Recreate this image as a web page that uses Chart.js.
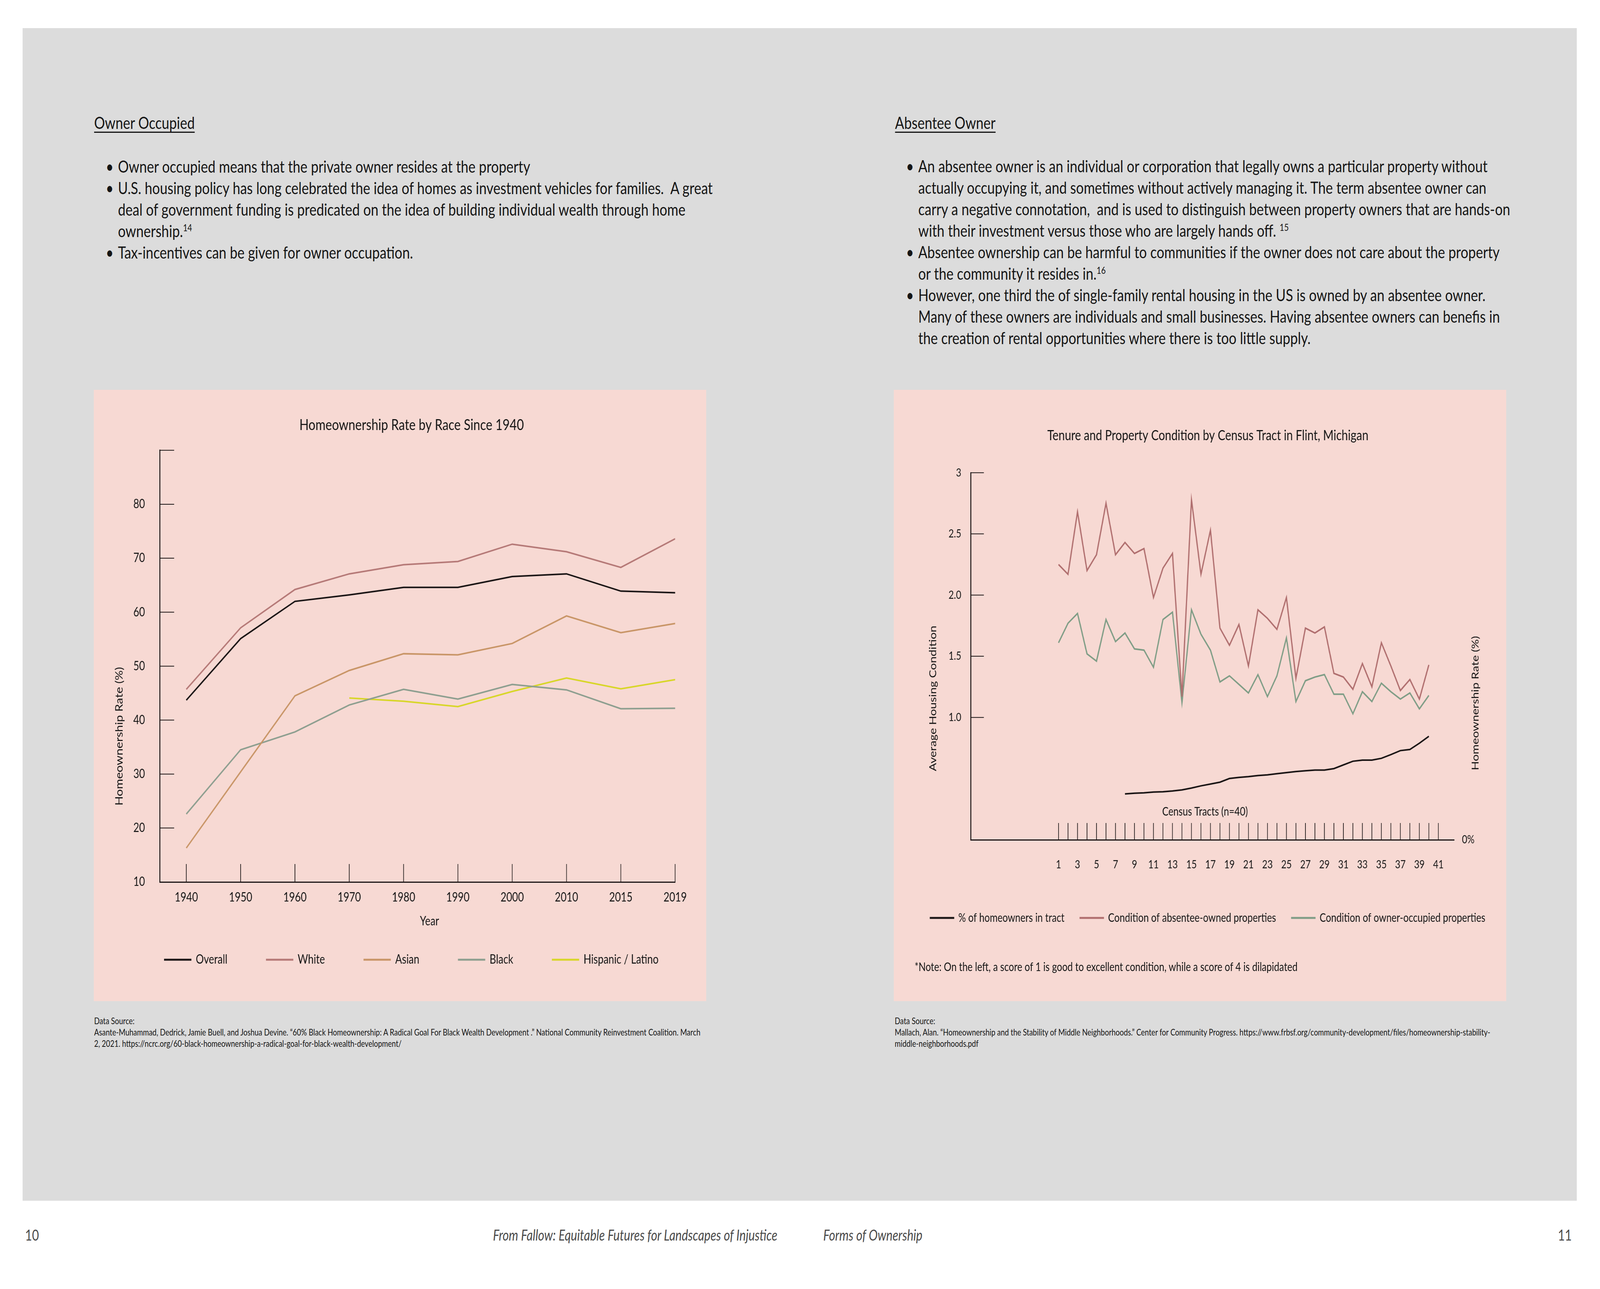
<!DOCTYPE html>
<html>
<head>
<meta charset="utf-8">
<script src="https://cdn.jsdelivr.net/npm/chart.js@4.4.1/dist/chart.umd.min.js"></script>
<style>
  html, body { margin: 0; padding: 0; overflow: hidden; background: #fff; }
  #frame { position: relative; overflow: hidden; background: #fff; }
  #stage { position: absolute; left: 0; top: 0; width: 5100px; height: 3300px; transform-origin: 0 0;
           font-family: Lato, sans-serif; color: #151515; background: #fff; }
  .abs { position: absolute; }
  .sheet { left: 72px; top: 72px; width: 4954px; height: 3002px; background: #dcdcdc; }
  .head { font-size: 43px; line-height: 55px; text-decoration: underline;
          text-underline-offset: 7px; text-decoration-thickness: 3px; }
  ul.pts { margin: 0; padding: 0; list-style: none; font-size: 43px; line-height: 55px; white-space: nowrap; }
  ul.pts li { position: relative; padding-left: 35px; }
  ul.pts li::before { content: '•'; position: absolute; left: -4px; }
  sup { font-size: 25px; line-height: 0; vertical-align: 15px; }
  .panel { background: #f7d9d3; width: 1952px; height: 1565px; top: 998px; }
  .src { font-size: 23px; line-height: 29px; white-space: nowrap; top: 2599px; }
  .foot { font-size: 38px; line-height: 1.2; top: 3139px; color: #4a4a4a; white-space: nowrap; }
  .note { font-size: 30px; line-height: 1.2; white-space: nowrap; }
</style>
</head>
<body>
<div id="frame">
<div id="stage">
<div class="abs sheet"></div>

<div class="abs head" style="left:300px; top:286px;">Owner Occupied</div>
<ul class="abs pts" style="left:341px; top:398px;">
  <li>Owner occupied means that the private owner resides at the property</li>
  <li>U.S. housing policy has long celebrated the idea of homes as investment vehicles for families.&nbsp; A great<br>deal of government funding is predicated on the idea of building individual wealth through home<br>ownership.<sup>14</sup></li>
  <li>Tax-incentives can be given for owner occupation.</li>
</ul>

<div class="abs head" style="left:2853px; top:286px;">Absentee Owner</div>
<ul class="abs pts" style="left:2892px; top:397px;">
  <li>An absentee owner is an individual or corporation that legally owns a particular property without<br>actually occupying it, and sometimes without actively managing it. The term absentee owner can<br>carry a negative connotation,&nbsp; and is used to distinguish between property owners that are hands-on<br>with their investment versus those who are largely hands off. <sup>15</sup></li>
  <li>Absentee ownership can be harmful to communities if the owner does not care about the property<br>or the community it resides in.<sup>16</sup></li>
  <li>However, one third the of single-family rental housing in the US is owned by an absentee owner.<br>Many of these owners are individuals and small businesses. Having absentee owners can benefis in<br>the creation of rental opportunities where there is too little supply.</li>
</ul>

<div class="abs panel" style="left:299px;"><canvas id="raceChart" width="1952" height="1565"></canvas></div>
<div class="abs panel" style="left:2849px;"><canvas id="flintChart" width="1952" height="1565"></canvas></div>
<div class="abs note" style="left:2915px; top:2456px;">*Note: On the left, a score of 1 is good to excellent condition, while a score of 4 is dilapidated</div>

<div class="abs src" style="left:300px;">Data Source:<br>Asante-Muhammad, Dedrick, Jamie Buell, and Joshua Devine. “60% Black Homeownership: A Radical Goal For Black Wealth Development .” National Community Reinvestment Coalition. March<br>2, 2021. https://ncrc.org/60-black-homeownership-a-radical-goal-for-black-wealth-development/</div>
<div class="abs src" style="left:2852px;">Data Source:<br>Mallach, Alan. “Homeownership and the Stability of Middle Neighborhoods.” Center for Community Progress. https://www.frbsf.org/community-development/files/homeownership-stability-<br>middle-neighborhoods.pdf</div>

<div class="abs foot" style="left:80px;">10</div>
<div class="abs foot" style="right:2622px; font-style:italic;">From Fallow: Equitable Futures for Landscapes of Injustice</div>
<div class="abs foot" style="left:2624px; font-style:italic;">Forms of Ownership</div>
<div class="abs foot" style="right:90px;">11</div>
</div>
</div>

<script>
// homeownership rate by race (%)
const years = ['1940', '1950', '1960', '1970', '1980', '1990', '2000', '2010', '2015', '2019'];
const overall = [43.7, 55.1, 62.0, 63.2, 64.6, 64.6, 66.6, 67.1, 63.9, 63.6];
const white = [45.7, 57.1, 64.2, 67.1, 68.8, 69.4, 72.6, 71.2, 68.3, 73.6];
const asian = [16.3, 30.4, 44.5, 49.2, 52.3, 52.1, 54.2, 59.3, 56.2, 57.9];
const black = [22.6, 34.5, 37.8, 42.8, 45.7, 43.9, 46.6, 45.6, 42.1, 42.2];
const hispanic = [null, null, null, 44.1, 43.5, 42.5, 45.3, 47.8, 45.8, 47.5];
const rateTicks = [10, 20, 30, 40, 50, 60, 70, 80, 90];

// Flint census tracts
const tracts = [1, 2, 3, 4, 5, 6, 7, 8, 9, 10, 11, 12, 13, 14, 15, 16, 17, 18, 19, 20,
  21, 22, 23, 24, 25, 26, 27, 28, 29, 30, 31, 32, 33, 34, 35, 36, 37, 38, 39, 40];
const tractTicks = [1, 2, 3, 4, 5, 6, 7, 8, 9, 10, 11, 12, 13, 14, 15, 16, 17, 18, 19, 20,
  21, 22, 23, 24, 25, 26, 27, 28, 29, 30, 31, 32, 33, 34, 35, 36, 37, 38, 39, 40, 41];
const absenteeCondition = [2.25, 2.17, 2.68, 2.20, 2.33, 2.75, 2.33, 2.43, 2.34, 2.38,
  1.98, 2.22, 2.34, 1.17, 2.78, 2.17, 2.53, 1.73, 1.59, 1.76,
  1.42, 1.88, 1.81, 1.72, 1.98, 1.32, 1.73, 1.69, 1.74, 1.36,
  1.33, 1.23, 1.44, 1.25, 1.61, 1.42, 1.22, 1.31, 1.15, 1.43];
const ownerCondition = [1.61, 1.77, 1.85, 1.52, 1.46, 1.80, 1.62, 1.69, 1.56, 1.55,
  1.41, 1.80, 1.86, 1.12, 1.88, 1.68, 1.55, 1.29, 1.34, 1.27,
  1.20, 1.35, 1.17, 1.34, 1.65, 1.13, 1.30, 1.33, 1.35, 1.19,
  1.19, 1.03, 1.21, 1.13, 1.28, 1.21, 1.15, 1.20, 1.07, 1.18];
const homeownerShare = [null, null, null, null, null, null, null, 12.5, 12.7, 12.8,
  13.0, 13.1, 13.3, 13.6, 14.1, 14.7, 15.2, 15.7, 16.7, 17.0,
  17.2, 17.5, 17.7, 18.0, 18.3, 18.6, 18.8, 19.0, 19.0, 19.4,
  20.4, 21.4, 21.7, 21.7, 22.2, 23.2, 24.3, 24.6, 26.3, 28.2];
const conditionTicks = [1, 1.5, 2, 2.5, 3];
const conditionLabels = ['1.0', '1.5', '2.0', '2.5', '3'];

// the window may be narrower than 5100px: stretch the page so it fills it
const frame = document.getElementById('frame');
const stage = document.getElementById('stage');
const sx = window.innerWidth / 5100;
const sy = window.innerHeight / 3300;
frame.style.width = window.innerWidth + 'px';
frame.style.height = window.innerHeight + 'px';
stage.style.transform = 'scale(' + sx + ',' + sy + ')';

Chart.defaults.font.family = 'Lato, sans-serif';
Chart.defaults.color = '#151515';

const ink = '#1b1616';

function series(label, values, xs, color, extra) {
  return Object.assign({
    label: label,
    data: values.map((v, i) => ({ x: xs[i], y: v })),
    borderColor: color,
    backgroundColor: color,
    borderWidth: 4,
    pointRadius: 0,
    tension: 0,
    fill: false
  }, extra || {});
}

// ticks that point into the plot, plus free-standing axis captions
const decor = {
  id: 'decor',
  afterDraw(chart, args, opts) {
    const { ctx, chartArea } = chart;
    ctx.save();
    ctx.strokeStyle = ink;
    ctx.lineWidth = 2;
    (opts.inTicks || []).forEach(spec => {
      const scale = chart.scales[spec.axis];
      scale.ticks.forEach(t => {
        const p = scale.getPixelForValue(t.value);
        ctx.beginPath();
        if (scale.isHorizontal()) {
          ctx.moveTo(p, chartArea.bottom);
          ctx.lineTo(p, chartArea.bottom - spec.length);
        } else {
          ctx.moveTo(chartArea.left, p);
          ctx.lineTo(chartArea.left + spec.length, p);
        }
        ctx.stroke();
      });
    });
    (opts.texts || []).forEach(t => {
      ctx.save();
      ctx.translate(t.x, t.y);
      ctx.rotate((t.rotate || 0) * Math.PI / 180);
      ctx.font = t.font;
      ctx.fillStyle = '#151515';
      ctx.textAlign = 'center';
      ctx.textBaseline = 'middle';
      ctx.fillText(t.text, 0, 0);
      ctx.restore();
    });
    ctx.restore();
  }
};

const yearIdx = years.map((y, i) => i);

new Chart(document.getElementById('raceChart'), {
  type: 'line',
  data: {
    datasets: [
      series('Overall', overall, yearIdx, '#1b1616'),
      series('White', white, yearIdx, '#b67a78'),
      series('Asian', asian, yearIdx, '#c99668'),
      series('Black', black, yearIdx, '#8e9f90'),
      series('Hispanic / Latino', hispanic, yearIdx, '#d8d62a')
    ]
  },
  options: {
    responsive: false,
    animation: false,
    devicePixelRatio: 1,
    layout: { padding: { left: 74, right: 0, top: 0, bottom: 80 } },
    scales: {
      x: {
        type: 'linear', min: -0.49, max: 9,
        afterBuildTicks: s => { s.ticks = yearIdx.map(i => ({ value: i })); },
        afterFit: s => { s.height = 58; },
        grid: { display: false, drawTicks: false },
        border: { display: true, color: ink, width: 3 },
        ticks: { padding: 20, autoSkip: false, maxRotation: 0, font: { size: 32 },
                 callback: v => years[v] }
      },
      y: {
        min: 10, max: 90,
        afterBuildTicks: s => { s.ticks = rateTicks.map(v => ({ value: v })); },
        afterFit: s => { s.width = 136; },
        grid: { display: false, drawTicks: false },
        border: { display: true, color: ink, width: 3 },
        ticks: { padding: 47, font: { size: 32 }, callback: v => (v === 90 ? '' : v) }
      },
      pad: {
        position: 'right', min: 0, max: 1,
        afterFit: s => { s.width = 99; },
        grid: { display: false }, border: { display: false }, ticks: { display: false }
      }
    },
    plugins: {
      title: { display: true, text: 'Homeownership Rate by Race Since 1940', color: '#151515',
               font: { size: 39, weight: 'normal' }, padding: { top: 67, bottom: 41 } },
      legend: { position: 'bottom',
                labels: { boxWidth: 83, boxHeight: 1, padding: 125, font: { size: 32 }, color: '#151515' } },
      tooltip: { enabled: false },
      decor: {
        inTicks: [{ axis: 'x', length: 46 }, { axis: 'y', length: 46 }],
        texts: [
          { text: 'Homeownership Rate (%)', x: 82, y: 887, rotate: -90, font: '32px Lato' },
          { text: 'Year', x: 1070, y: 1361, font: '32px Lato' }
        ]
      }
    }
  },
  plugins: [decor]
});

new Chart(document.getElementById('flintChart'), {
  type: 'line',
  data: {
    datasets: [
      series('% of homeowners in tract', homeownerShare, tracts, '#1b1616', { yAxisID: 'y2' }),
      series('Condition of absentee-owned properties', absenteeCondition, tracts, '#b06f6f'),
      series('Condition of owner-occupied properties', ownerCondition, tracts, '#7f9d86')
    ]
  },
  options: {
    responsive: false,
    animation: false,
    devicePixelRatio: 1,
    layout: { padding: { left: 50, right: 0, top: 0, bottom: 188 } },
    scales: {
      x: {
        type: 'linear', min: -8.25, max: 42.66,
        afterBuildTicks: s => { s.ticks = tractTicks.map(v => ({ value: v })); },
        afterFit: s => { s.height = 135; },
        grid: { display: false, drawTicks: false },
        border: { display: true, color: ink, width: 3 },
        ticks: { padding: 46, autoSkip: false, maxRotation: 0, font: { size: 29 },
                 callback: v => (v % 2 === 1 ? String(v) : '') }
      },
      y: {
        min: 0, max: 3,
        afterBuildTicks: s => { s.ticks = conditionTicks.map(v => ({ value: v })); },
        afterFit: s => { s.width = 195; },
        grid: { display: false, drawTicks: false },
        border: { display: true, color: ink, width: 3 },
        ticks: { padding: 30, font: { size: 29 },
                 callback: v => conditionLabels[conditionTicks.indexOf(v)] }
      },
      y2: {
        position: 'right', min: 0, max: 100,
        afterBuildTicks: s => { s.ticks = [{ value: 0 }]; },
        afterFit: s => { s.width = 166; },
        grid: { display: false, drawTicks: false },
        border: { display: false },
        ticks: { padding: 25, font: { size: 29 }, callback: v => v + '%' }
      }
    },
    plugins: {
      title: { display: true, text: 'Tenure and Property Condition by Census Tract in Flint, Michigan',
               color: '#151515', font: { size: 36, weight: 'normal' }, padding: { top: 96, bottom: 73 } },
      legend: { position: 'bottom',
                labels: { boxWidth: 74, boxHeight: 1, padding: 50, font: { size: 30 }, color: '#151515' } },
      tooltip: { enabled: false },
      decor: {
        inTicks: [{ axis: 'x', length: 43 }, { axis: 'y', length: 42 }],
        texts: [
          { text: 'Average Housing Condition', x: 125, y: 790, rotate: -90, font: '31px Lato' },
          { text: 'Homeownership Rate (%)', x: 1854, y: 802, rotate: -90, font: '31px Lato' },
          { text: 'Census Tracts (n=40)', x: 992, y: 1080, font: '30px Lato' }
        ]
      }
    }
  },
  plugins: [decor]
});
</script>
</body>
</html>
